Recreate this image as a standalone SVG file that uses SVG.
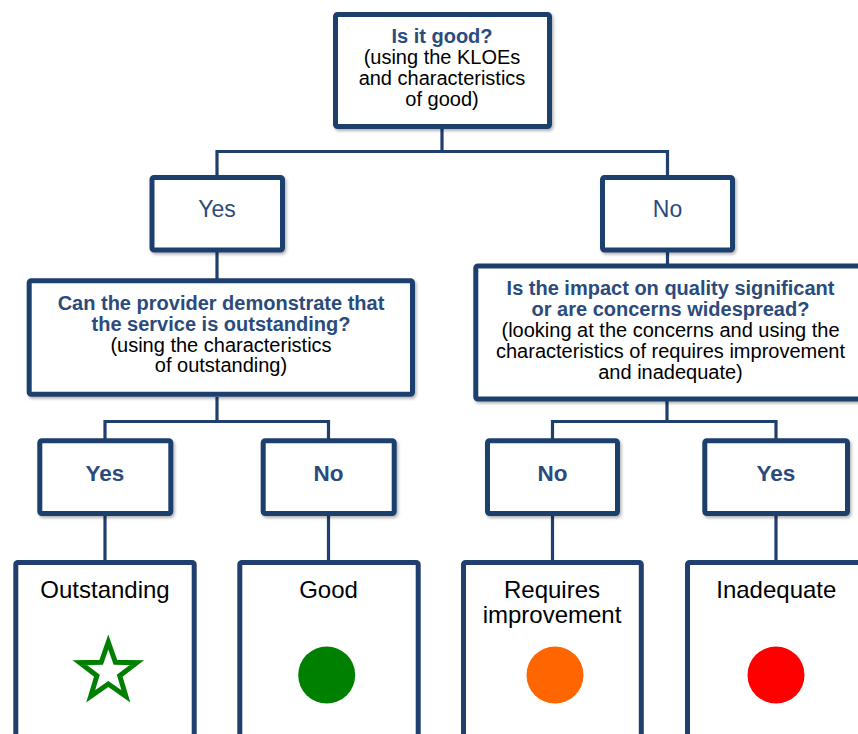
<svg xmlns="http://www.w3.org/2000/svg" width="858" height="734" viewBox="0 0 858 734">
<defs>
<filter id="sh" x="-10%" y="-10%" width="120%" height="130%">
<feDropShadow dx="1.5" dy="2" stdDeviation="1.5" flood-color="#000" flood-opacity="0.3"/>
</filter>
<style>
.box{fill:#fff;stroke:#1f3f6e;stroke-width:5}
.sh{filter:url(#sh)}
.con{fill:none;stroke:#1f3f6e;stroke-width:3.2}
text{font-family:"Liberation Sans",Arial,sans-serif;text-anchor:middle}
.q{font-size:20px;fill:#000}
.qb{font-size:20px;font-weight:bold;fill:#2b4b7c}
.yn1{font-size:23px;fill:#2b4b7c}
.yn2{font-size:22.5px;font-weight:bold;fill:#2b4b7c}
.lab{font-size:24px;fill:#000}
</style>
</defs>
<rect width="858" height="734" fill="#fff"/>
<g id="connectors">
<path class="con" d="M442 129 V151.5 M217 151.5 H667.5 M217 150 V176 M667.5 150 V176"/>
<path class="con" d="M217 252 V279 M667.5 252 V264"/>
<path class="con" d="M217 397 V421.5 M105 421.5 H328.5 M105 420 V439 M328.5 420 V439"/>
<path class="con" d="M667 401 V421.5 M552.5 421.5 H776 M552.5 420 V439 M776 420 V439"/>
<path class="con" d="M105 515 V561 M328.5 515 V561 M552.5 515 V561 M776 515 V561"/>
</g>
<g id="n-good-q">
<rect class="box sh" x="335.5" y="14.5" width="214" height="112" rx="2"/>
<text x="442" y="43" class="qb">Is it good?</text>
<text x="442" y="64" class="q">(using the KLOEs</text>
<text x="442" y="85" class="q">and characteristics</text>
<text x="442" y="106" class="q">of good)</text>
</g>
<g id="n-yes1">
<rect class="box sh" x="152" y="177.5" width="130.5" height="72.5" rx="2"/>
<text x="217" y="216.5" class="yn1">Yes</text>
</g>
<g id="n-no1">
<rect class="box sh" x="602.5" y="177.5" width="130" height="72.5" rx="2"/>
<text x="667.5" y="216.5" class="yn1">No</text>
</g>
<g id="n-outstanding-q">
<rect class="box sh" x="29.2" y="280.8" width="383.3" height="113.4" rx="2"/>
<text x="221" y="310" class="qb">Can the provider demonstrate that</text>
<text x="221" y="331" class="qb">the service is outstanding?</text>
<text x="221" y="351.5" class="q">(using the characteristics</text>
<text x="221" y="372" class="q">of outstanding)</text>
</g>
<g id="n-impact-q">
<rect class="box sh" x="475.8" y="266" width="390" height="133" rx="2"/>
<text x="670.5" y="295" class="qb">Is the impact on quality significant</text>
<text x="670.5" y="315.5" class="qb">or are concerns widespread?</text>
<text x="670.5" y="336.5" class="q">(looking at the concerns and using the</text>
<text x="670.5" y="357.5" class="q">characteristics of requires improvement</text>
<text x="670.5" y="378.5" class="q">and inadequate)</text>
</g>
<g id="n-yes2">
<rect class="box sh" x="39.8" y="440.8" width="131" height="72.7" rx="2"/>
<text x="105" y="481" class="yn2">Yes</text>
</g>
<g id="n-no2">
<rect class="box sh" x="263.2" y="440.8" width="131" height="72.7" rx="2"/>
<text x="328.5" y="481" class="yn2">No</text>
</g>
<g id="n-no3">
<rect class="box sh" x="487.5" y="440.8" width="130" height="72.7" rx="2"/>
<text x="552.5" y="481" class="yn2">No</text>
</g>
<g id="n-yes3">
<rect class="box sh" x="704.8" y="440.8" width="142.7" height="72.7" rx="2"/>
<text x="776" y="481" class="yn2">Yes</text>
</g>
<g id="n-outstanding">
<rect class="box" x="15.8" y="562.5" width="178.4" height="200" rx="2"/>
<text x="105" y="597.5" class="lab">Outstanding</text>
<polygon points="108.3,642 115.4,662.3 136.8,662.7 119.7,675.7 125.9,696.3 108.3,684 90.7,696.3 96.9,675.7 79.8,662.7 101.2,662.3" fill="#fff" stroke="#008000" stroke-width="5" stroke-linejoin="miter"/>
</g>
<g id="n-good">
<rect class="box" x="239.8" y="562.5" width="178.4" height="200" rx="2"/>
<text x="328.5" y="597.5" class="lab">Good</text>
<circle cx="326.7" cy="675" r="28.5" fill="#008000"/>
</g>
<g id="n-requires">
<rect class="box" x="463.5" y="562.5" width="177.8" height="200" rx="2"/>
<text x="552" y="597.5" class="lab">Requires</text>
<text x="552" y="622.5" class="lab">improvement</text>
<circle cx="555" cy="675" r="28.5" fill="#ff6600"/>
</g>
<g id="n-inadequate">
<rect class="box" x="687.5" y="562.5" width="200" height="200" rx="2"/>
<text x="776.3" y="597.5" class="lab">Inadequate</text>
<circle cx="776" cy="675" r="28.5" fill="#ff0000"/>
</g>
</svg>
